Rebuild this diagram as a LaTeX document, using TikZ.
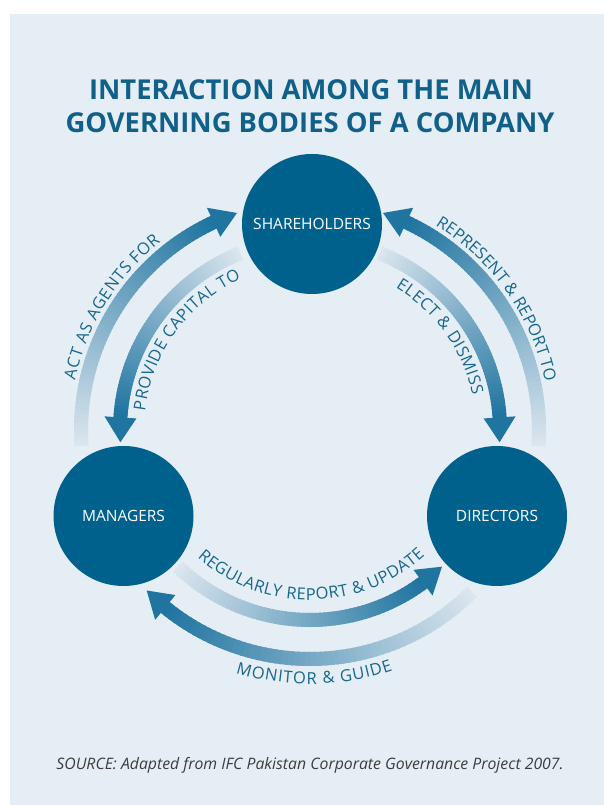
\documentclass[tikz,border=0pt]{standalone}
\usepackage{fontspec}
\setmainfont{Open Sans}
\usetikzlibrary{decorations.text}

\definecolor{panelbg}{HTML}{E6EEF5}
\definecolor{bodyblue}{HTML}{00628C}
\definecolor{titleblue}{HTML}{116089}
\definecolor{labelblue}{HTML}{17668F}
\definecolor{arrdark}{HTML}{1F74A0}
\definecolor{arrlight}{HTML}{DAE5EE}
\definecolor{srcgrey}{HTML}{3C3C3C}

% arrow with a colour ramp: tail angle, head base angle, tip angle, radius
\newcommand{\gradarrow}[4]{%
  \foreach \k [evaluate=\k as \mixp using 100*\k/59,
               evaluate=\k as \ta using #1+((#2)-(#1))*\k/60,
               evaluate=\k as \tb using #1+((#2)-(#1))*(\k+1.4)/60] in {0,...,59}
    {\draw[line width=14pt, arrdark!\mixp!arrlight] (\ta:#4) arc[start angle=\ta, end angle=\tb, radius=#4pt];}%
  \fill[arrdark] ({#2}:{#4-16}) -- ({#2}:{#4+16}) -- ({#3}:{#4}) -- cycle;%
}

\tikzset{
  body/.style={circle, fill=bodyblue, minimum size=140pt, inner sep=0pt, text=white,
    font=\fontsize{15.5}{18}\selectfont},
  titletext/.style={font=\bfseries\fontsize{27.4}{32}\selectfont, text=titleblue, inner sep=0pt},
  srctext/.style={font=\itshape\fontsize{15.8}{18}\selectfont, text=srcgrey, inner sep=0pt},
  arclabel/.style={decorate, decoration={text along path, text align={fit to path},
    text color=labelblue, text={|\fontsize{16.5}{18}\selectfont|#1}}},
}

\begin{document}
\begin{tikzpicture}[x=1pt, y=1pt]
  \useasboundingbox (0,0) rectangle (604,805);%

  % Panel behind everything
  \fill[panelbg] (10,0) rectangle (604,791);%

  % Heading
  \node[titletext, anchor=base] (title1) at (311,705) {INTERACTION AMONG THE MAIN};%
  \node[titletext, anchor=base] (title2) at (310,672) {GOVERNING BODIES OF A COMPANY};%

  % Centre of the cycle
  \coordinate (ctr) at (310,375);%

  \begin{scope}[shift={(ctr)}]
    % Managers to shareholders (outer left)
    \gradarrow{184}{114.9}{108.6}{229}%
    % Shareholders to managers (inner left)
    \gradarrow{111.5}{176.2}{183.7}{190}%
    % Directors to shareholders (outer right)
    \gradarrow{-4}{65.1}{71.4}{229}%
    % Shareholders to directors (inner right)
    \gradarrow{68.5}{3.8}{-3.7}{190}%
    % Managers to directors (inner bottom)
    \gradarrow{226}{306.5}{314}{190}%
    % Directors to managers (outer bottom)
    \gradarrow{315}{230.8}{224.5}{229}%

    % Labels along the arrows
    \path[arclabel={ACT AS AGENTS FOR}] (168:240) arc[start angle=168, end angle=128.5, radius=240pt];%
    \path[arclabel={PROVIDE CAPITAL TO}] (173.5:166) arc[start angle=173.5, end angle=114.5, radius=166pt];%
    \path[arclabel={REPRESENT {\&} REPORT TO}] (58.5:240) arc[start angle=58.5, end angle=11.5, radius=240pt];%
    \path[arclabel={ELECT {\&} DISMISS}] (59:166) arc[start angle=59, end angle=12, radius=166pt];%
    \path[arclabel={REGULARLY REPORT {\&} UPDATE}] (228.5:170) arc[start angle=228.5, end angle=312.5, radius=170pt];%
    \path[arclabel={MONITOR {\&} GUIDE}] (253:254) arc[start angle=253, end angle=289, radius=254pt];%
  \end{scope}

  % Governing bodies
  \node[body] (share) at (312,581) {SHAREHOLDERS};%
  \node[body] (managers) at (123.5,289) {MANAGERS};%
  \node[body] (directors) at (497,289) {DIRECTORS};%

  % Source line
  \node[srctext, anchor=base] (source) at (310,35) {SOURCE: Adapted from IFC Pakistan Corporate Governance Project 2007.};%
\end{tikzpicture}
\end{document}
